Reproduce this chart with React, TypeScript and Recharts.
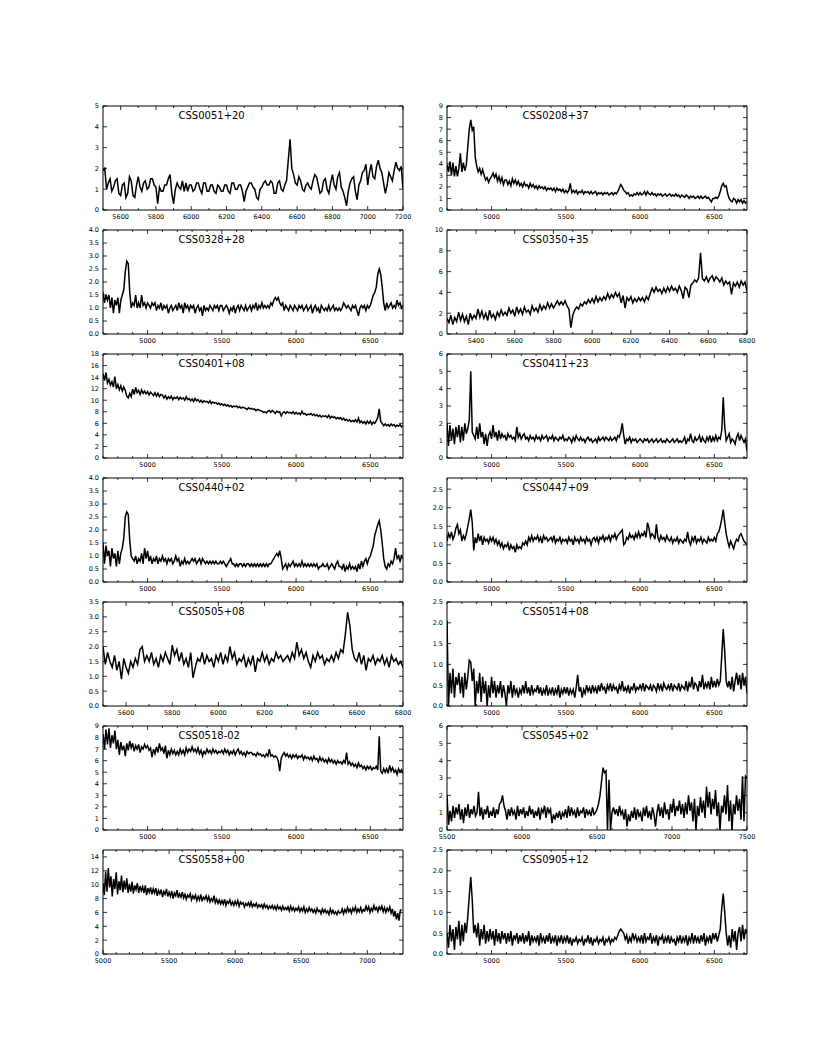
import React from 'react';
import { LineChart, Line, XAxis, YAxis, ReferenceLine } from 'recharts';

// plot box geometry (px)
const PLOT_W = 300;
const PLOT_H = 104;
const PAD_T = 6;
const PAD_R = 16;
const AXIS_W = 30;
const AXIS_H = 14;
const FONT = '"DejaVu Sans", sans-serif';

// fluxes, one value every 10 A (one row = 100 A)
const flux0051 = [
  1.9, 2.0, 1.0, 1.3, 1.5, 0.9, 1.1, 1.4, 1.5, 0.8,
  0.7, 1.2, 1.3, 0.6, 0.8, 1.6, 1.4, 0.7, 0.6, 1.2,
  1.6, 1.1, 0.9, 1.3, 1.4, 1.0, 1.1, 1.5, 1.5, 1.2,
  1.1, 0.3, 1.1, 0.9, 0.9, 1.2, 1.2, 1.5, 1.7, 0.8,
  0.3, 1.0, 1.3, 1.1, 1.0, 1.4, 0.9, 1.3, 0.9, 1.2,
  1.2, 0.9, 1.0, 1.3, 1.3, 1.0, 0.8, 1.3, 1.3, 0.9,
  0.9, 1.2, 1.2, 0.9, 0.8, 1.2, 1.1, 0.9, 0.9, 1.2,
  1.2, 0.9, 0.8, 1.3, 1.3, 1.0, 1.0, 1.2, 1.2, 0.9,
  0.4, 0.9, 1.1, 1.3, 1.3, 1.1, 1.0, 0.6, 0.5, 1.0,
  1.1, 1.3, 1.4, 1.2, 1.2, 1.4, 1.3, 0.8, 0.8, 1.3,
  1.4, 1.0, 0.9, 1.2, 1.4, 2.4, 3.4, 2.0, 1.7, 1.3,
  1.2, 1.6, 1.4, 1.0, 0.9, 1.2, 1.3, 1.1, 1.0, 1.4,
  1.7, 1.6, 1.2, 0.8, 0.9, 1.4, 1.5, 1.0, 0.8, 1.3,
  1.7, 1.2, 1.0, 1.6, 1.8, 1.1, 0.9, 0.6, 0.2, 0.9,
  1.3, 1.5, 1.6, 0.9, 0.5, 1.2, 1.4, 1.8, 1.9, 2.2,
  1.2, 1.8, 2.2, 1.6, 1.5, 2.1, 2.4, 2.0, 1.8, 1.3,
  0.8, 1.2, 1.8, 1.6, 1.4, 1.9, 2.3, 2.0, 1.9, 2.1,
  1.0,
];

const flux0208 = [
  3.9, 3.3, 4.2, 3.0, 4.1, 2.9, 3.8, 2.9, 3.6, 4.9,
  3.3, 4.1, 3.4, 3.9, 5.5, 7.0, 7.8, 6.9, 7.2, 4.6,
  3.8, 3.3, 3.6, 3.1, 3.5, 3.0, 2.6, 2.8, 2.4, 2.7,
  2.9, 3.2, 2.8, 3.1, 2.5, 2.9, 2.4, 2.8, 2.2, 2.6,
  2.6, 2.2, 2.5, 2.1, 2.7, 2.3, 2.6, 2.2, 2.5, 2.1,
  2.3, 2.0, 2.4, 2.1, 2.2, 1.9, 2.3, 2.0, 2.2, 1.9,
  2.1, 1.8, 2.1, 1.9, 2.0, 1.8, 2.0, 1.7, 1.9, 1.8,
  1.9, 1.7, 1.9, 1.6, 1.9, 1.7, 1.8, 1.6, 1.8, 1.5,
  1.7, 1.5, 1.7, 2.3, 1.5, 1.7, 1.5, 1.7, 1.4, 1.6,
  1.5, 1.7, 1.4, 1.6, 1.5, 1.6, 1.4, 1.6, 1.4, 1.5,
  1.6, 1.3, 1.5, 1.4, 1.5, 1.3, 1.5, 1.4, 1.5, 1.3,
  1.4, 1.5, 1.3, 1.5, 1.4, 1.6, 1.9, 2.2, 2.0, 1.7,
  1.6, 1.4, 1.5, 1.2, 1.3, 1.2, 1.4, 1.3, 1.5, 1.3,
  1.5, 1.3, 1.4, 1.6, 1.3, 1.6, 1.4, 1.3, 1.5, 1.3,
  1.4, 1.2, 1.4, 1.3, 1.4, 1.2, 1.3, 1.4, 1.2, 1.3,
  1.4, 1.2, 1.3, 1.2, 1.4, 1.2, 1.3, 1.1, 1.3, 1.2,
  1.1, 1.3, 1.2, 1.0, 1.2, 1.1, 1.2, 1.0, 1.1, 1.2,
  1.0, 1.2, 1.0, 1.1, 1.2, 1.0, 1.1, 0.9, 0.7, 1.0,
  1.0, 1.1, 1.0, 1.2, 1.6, 2.1, 2.3, 2.0, 2.1, 1.4,
  1.0, 0.8, 0.7, 1.0, 0.9, 0.6, 0.9, 0.7, 0.9, 0.6,
  0.8, 0.6, 0.7,
];

const flux0328 = [
  1.6, 1.2, 1.5, 1.3, 1.5, 1.0, 1.4, 0.8, 1.3, 1.1,
  1.4, 0.8, 1.3, 1.5, 1.7, 2.4, 2.8, 2.7, 1.6, 1.0,
  1.2, 1.1, 1.5, 1.0, 1.2, 1.0, 1.5, 1.1, 1.2, 1.0,
  1.2, 1.1, 1.0, 1.2, 1.1, 1.2, 0.9, 1.1, 1.0, 1.2,
  0.9, 1.1, 1.0, 1.1, 0.8, 1.0, 1.1, 0.9, 1.0, 1.1,
  0.9, 1.2, 1.0, 1.1, 0.8, 1.2, 1.0, 1.1, 0.9, 1.1,
  1.0, 1.1, 0.8, 1.0, 1.1, 0.9, 1.0, 0.7, 1.1, 0.9,
  1.0, 0.9, 1.1, 1.0, 0.9, 1.1, 1.0, 1.1, 0.9, 1.1,
  1.1, 0.9, 1.0, 1.1, 1.0, 0.8, 1.0, 0.9, 1.1, 0.8,
  1.0, 1.1, 0.9, 1.1, 1.0, 0.9, 1.1, 0.9, 1.0, 1.1,
  0.9, 1.1, 1.0, 1.2, 0.9, 1.1, 1.0, 1.2, 1.0, 1.1,
  1.0, 1.1, 1.0, 1.2, 1.1, 1.3, 1.4, 1.3, 1.4, 1.2,
  1.1, 1.2, 0.9, 1.1, 1.0, 0.9, 1.1, 1.0, 0.9, 1.1,
  1.0, 0.9, 1.1, 1.0, 1.1, 0.9, 1.0, 1.1, 0.9, 1.0,
  1.1, 0.8, 1.0, 1.1, 0.9, 1.0, 0.8, 1.1, 1.0, 0.9,
  1.0, 0.9, 1.1, 0.9, 1.0, 1.1, 0.9, 1.0, 0.9, 1.0,
  0.9, 1.0, 1.2, 1.1, 1.0, 1.1, 1.0, 0.9, 1.1, 1.0,
  1.1, 0.9, 0.7, 1.0, 1.1, 1.0, 1.1, 0.9, 1.1, 1.0,
  1.1, 1.3, 1.5, 1.6, 1.8, 2.3, 2.5, 2.3, 1.8, 1.2,
  0.9, 1.2, 1.0, 1.1, 1.2, 1.0, 1.1, 1.0, 1.3, 1.1,
  1.2, 1.0, 1.1,
];

const flux0350 = [
  1.5, 1.1, 1.8, 0.9, 1.6, 1.2, 2.1, 1.3, 1.9, 1.2,
  1.7, 0.9, 2.0, 1.4, 1.8, 1.5, 2.4, 1.6, 2.2, 1.5,
  2.0, 1.3, 2.3, 1.6, 1.9, 1.4, 2.1, 1.7, 2.3, 1.8,
  2.1, 1.8, 2.5, 2.0, 2.3, 1.7, 2.6, 2.0, 2.4, 1.9,
  2.6, 2.1, 2.3, 1.9, 2.7, 2.2, 2.5, 2.1, 2.8, 2.3,
  2.7, 2.4, 3.0, 2.5, 2.9, 2.5, 2.8, 3.2, 2.8, 3.1,
  2.8, 3.2, 2.7, 2.4, 0.6, 1.8, 2.3, 2.6, 2.4, 2.9,
  2.7, 3.1, 2.9, 3.3, 3.0, 3.4, 3.0, 3.6, 3.1, 3.5,
  3.2, 3.6, 3.3, 3.9, 3.4, 3.8, 3.5, 4.0, 3.6, 3.9,
  3.0, 3.7, 2.5, 3.5, 3.2, 3.6, 3.0, 3.4, 3.1, 3.5,
  3.2, 3.5, 3.1, 3.6, 3.3, 3.9, 4.4, 4.0, 4.5, 4.1,
  4.3, 3.9, 4.4, 4.0, 4.5, 4.1, 4.6, 4.2, 4.4, 4.0,
  4.6, 4.2, 3.4, 4.5, 4.3, 3.5, 4.7, 4.9, 5.2, 5.0,
  5.4, 7.8, 5.3, 5.1, 5.5, 5.0, 5.4, 5.6, 5.1, 5.5,
  5.3, 5.0, 5.4, 4.7, 5.1, 4.8, 5.0, 3.8, 4.9, 4.6,
  5.0, 4.5, 5.1, 4.7, 5.0, 4.1,
];

const flux0401 = [
  14.6, 13.4, 14.8, 13.0, 13.6, 12.6, 13.2, 12.3, 14.1, 12.0,
  12.7, 11.8, 12.5, 11.6, 12.3, 11.7, 10.7, 10.4, 11.2, 10.6,
  11.9, 11.0, 12.2, 11.3, 11.7, 11.0, 11.8, 11.2, 11.6, 11.1,
  11.5, 10.9, 11.4, 11.1, 10.8, 11.3, 10.7, 11.2, 10.6, 11.0,
  10.9, 10.4, 10.8, 10.2, 10.6, 10.3, 10.7, 10.1, 10.5, 10.3,
  10.6, 10.1, 10.5, 10.2, 10.4, 10.0, 10.6, 10.1, 10.3, 9.9,
  10.2, 9.8, 10.3, 9.9, 10.1, 9.7, 10.0, 9.6, 9.9, 9.7,
  9.8, 9.5, 9.9, 9.4, 9.7, 9.5, 9.6, 9.3, 9.5, 9.2,
  9.4, 9.1, 9.3, 9.0, 9.2, 8.9, 9.1, 8.8, 9.0, 8.9,
  9.0, 8.7, 8.9, 8.6, 8.8, 8.7, 8.6, 8.4, 8.7, 8.5,
  8.6, 8.4, 8.5, 8.2, 8.4, 8.3, 8.2, 8.1, 7.9, 8.0,
  7.8, 8.1, 8.2, 7.9, 8.2, 8.0, 7.7, 8.1, 7.9, 8.0,
  7.3, 7.8, 8.0, 7.7, 8.0, 7.8, 7.9, 7.7, 8.0, 7.6,
  7.9, 7.6, 7.8, 7.5, 8.1, 7.6, 7.7, 7.4, 7.6, 7.5,
  7.7, 7.4, 7.6, 7.3, 7.5, 7.2, 7.4, 7.1, 7.3, 7.2,
  7.3, 7.0, 7.4, 6.9, 7.2, 7.0, 7.1, 6.8, 7.0, 6.8,
  7.0, 6.6, 6.9, 6.5, 6.7, 6.4, 6.6, 6.3, 6.5, 6.3,
  6.6, 6.2, 6.9, 6.1, 6.4, 6.0, 6.3, 5.9, 6.4, 6.0,
  6.4, 5.8, 6.2, 6.0, 6.4, 7.0, 8.5, 6.3, 6.0, 5.6,
  5.9, 5.6, 5.8, 5.5, 5.9, 5.6, 5.8, 5.4, 5.7, 5.5,
  5.8, 5.4, 5.6,
];

const flux0411 = [
  2.0, 0.7, 1.9, 1.0, 1.7, 0.8, 1.8, 1.2, 1.9, 0.9,
  1.8, 1.0, 2.0, 1.4, 1.7, 2.2, 5.0, 1.5, 1.3, 1.1,
  1.8, 1.1, 2.0, 1.2, 1.5, 0.8, 1.4, 0.7, 1.3, 1.5,
  1.1, 1.9, 1.2, 1.5, 1.0, 1.6, 1.1, 1.4, 1.2, 1.3,
  1.0, 1.4, 1.2, 1.3, 1.1, 1.2, 1.0, 1.8, 1.2, 1.4,
  1.1, 1.3, 1.4, 1.1, 1.2, 1.0, 1.3, 1.1, 1.2, 1.0,
  1.3, 1.1, 1.2, 1.0, 1.3, 1.1, 1.2, 1.3, 1.0, 1.2,
  1.1, 1.3, 1.0, 1.2, 1.1, 1.0, 1.2, 1.1, 1.3, 1.0,
  1.1, 1.0, 1.2, 1.1, 0.9, 1.2, 1.0, 1.3, 1.1, 1.0,
  1.2, 1.0, 1.1, 0.9, 1.1, 1.2, 1.0, 1.1, 0.9, 1.0,
  1.1, 0.9, 1.2, 1.0, 1.1, 1.2, 1.0, 1.2, 1.1, 1.0,
  1.2, 1.0, 1.1, 1.2, 1.0, 1.3, 1.2, 1.5, 2.0, 1.3,
  0.8, 1.1, 1.0, 1.2, 0.9, 1.1, 1.0, 1.1, 0.9, 1.0,
  1.1, 1.0, 0.9, 1.1, 1.0, 1.1, 0.9, 1.0, 1.1, 0.9,
  1.0, 1.1, 0.9, 1.0, 1.1, 0.9, 1.0, 0.9, 1.1, 1.0,
  0.9, 1.0, 1.1, 0.9, 1.0, 1.1, 0.9, 1.0, 0.9, 1.0,
  1.2, 0.8, 1.1, 1.0, 1.4, 1.0, 0.9, 1.2, 1.0, 1.1,
  1.3, 0.9, 1.2, 1.0, 0.9, 1.2, 1.0, 1.3, 0.9, 1.2,
  1.0, 1.3, 1.0, 1.2, 1.1, 1.6, 3.5, 1.8, 1.0, 1.2,
  1.4, 0.9, 1.1, 1.0, 0.8, 1.2, 1.4, 1.0, 1.3, 1.1,
  0.9, 1.1, 0.4,
];

const flux0440 = [
  1.5, 0.7, 1.4, 1.0, 1.2, 0.6, 1.3, 0.9, 1.1, 0.6,
  1.2, 0.7, 1.1, 1.3, 1.7, 2.5, 2.7, 2.6, 1.6, 1.0,
  0.9, 0.8, 1.0, 0.7, 0.9, 0.8, 1.1, 0.7, 1.3, 0.9,
  1.2, 0.8, 1.0, 0.7, 0.9, 0.8, 1.0, 0.7, 0.9, 0.8,
  1.0, 0.8, 0.9, 0.7, 0.9, 0.8, 0.9, 0.7, 0.8, 1.0,
  0.8, 0.9, 0.6, 0.8, 0.7, 0.9, 0.7, 0.8, 0.7, 0.8,
  0.9, 0.8, 0.9, 0.7, 0.8, 0.9, 0.7, 0.9, 0.8, 0.7,
  0.8, 0.7, 0.8, 0.7, 0.8, 0.7, 0.8, 0.7, 0.7, 0.8,
  0.7, 0.8, 0.7, 0.6, 0.7, 0.8, 0.9, 0.7, 0.7, 0.6,
  0.7, 0.6, 0.7, 0.7, 0.6, 0.7, 0.6, 0.7, 0.7, 0.6,
  0.7, 0.6, 0.7, 0.6, 0.7, 0.6, 0.7, 0.6, 0.7, 0.6,
  0.7, 0.6, 0.7, 0.7, 0.8, 0.9, 1.0, 1.1, 1.0, 1.2,
  0.9, 0.5, 0.6, 0.7, 0.5, 0.7, 0.6, 0.7, 0.8, 0.6,
  0.7, 0.6, 0.7, 0.6, 0.8, 0.6, 0.7, 0.6, 0.7, 0.6,
  0.7, 0.6, 0.7, 0.6, 0.7, 0.5, 0.6, 0.6, 0.7, 0.6,
  0.6, 0.7, 0.5, 0.6, 0.7, 0.6, 0.5, 0.7, 0.8, 0.6,
  0.6, 0.5, 0.7, 0.4, 0.6, 0.5, 0.7, 0.5, 0.6, 0.5,
  0.6, 0.4, 0.7, 0.5, 0.8, 0.6, 0.8, 0.9, 0.7, 0.9,
  1.0, 1.2, 1.4, 1.8, 2.0, 2.2, 2.35, 2.0, 1.5, 0.9,
  0.6, 0.5, 0.7, 0.6, 0.8, 0.7, 0.9, 1.3, 0.9, 1.0,
  0.8, 1.0, 0.9,
];

const flux0447 = [
  1.1, 1.3, 1.2, 1.35, 1.15, 1.25, 1.45, 1.55, 1.3, 1.4,
  1.1, 1.25, 1.15, 1.3, 1.5, 1.7, 1.95, 1.6, 0.85, 1.2,
  1.05, 1.3, 1.1, 1.25, 1.0, 1.2, 1.1, 1.15, 1.05, 1.2,
  1.1, 1.2, 1.05, 1.15, 1.0, 1.1, 0.95, 1.05, 0.9, 1.0,
  0.95, 1.05, 0.85, 1.0, 0.9, 0.95, 0.8, 1.0, 0.9, 0.95,
  0.9, 1.05, 1.0, 1.1, 1.0, 1.2, 1.1, 1.25, 1.1, 1.2,
  1.15, 1.25, 1.1, 1.2, 1.05, 1.25, 1.15, 1.2, 1.1, 1.15,
  1.2, 1.1, 1.25, 1.05, 1.15, 1.1, 1.2, 1.05, 1.15, 1.1,
  1.15, 1.05, 1.2, 1.1, 1.15, 1.0, 1.2, 1.1, 1.15, 1.05,
  1.2, 1.1, 1.15, 1.05, 1.2, 1.1, 1.15, 1.0, 1.15, 1.2,
  1.1, 1.2, 1.05, 1.2, 1.15, 1.25, 1.1, 1.2, 1.15, 1.25,
  1.1, 1.25, 1.2, 1.3, 1.15, 1.25, 1.3, 1.35, 1.4, 1.0,
  1.05, 1.2, 1.15, 1.3, 1.2, 1.25, 1.15, 1.3, 1.2, 1.35,
  1.2, 1.3, 1.25, 1.35, 1.2, 1.6, 1.45, 1.2, 1.3, 1.25,
  1.15, 1.55, 1.2, 1.1, 1.25, 1.15, 1.2, 1.1, 1.25, 1.15,
  1.1, 1.2, 1.05, 1.15, 1.1, 1.2, 1.05, 1.15, 1.1, 1.05,
  1.15, 1.1, 1.35, 1.1, 1.0, 1.2, 1.1, 1.25, 1.05, 1.15,
  1.1, 1.2, 1.05, 1.15, 1.1, 1.05, 1.2, 1.1, 1.15, 1.1,
  1.2, 1.1, 1.3, 1.35, 1.5, 1.7, 1.95, 1.6, 1.3, 1.1,
  0.95, 1.1, 1.0, 0.9, 1.05, 1.15, 1.1, 1.25, 1.3, 1.2,
  1.1, 1.05, 1.0,
];

const flux0505 = [
  2.0, 1.4, 1.8, 1.5, 1.3, 1.7, 1.2, 1.5, 0.9, 1.6,
  1.3, 1.1, 1.5, 1.3, 1.6, 1.4, 1.9, 2.0, 1.5, 1.7,
  1.5, 1.8, 1.4, 1.6, 1.3, 1.7, 1.5, 1.8, 1.6, 1.4,
  2.05, 1.7, 1.9, 1.5, 1.8, 1.4, 1.6, 1.3, 1.8, 0.95,
  1.3, 1.6, 1.5, 1.8, 1.4, 1.7, 1.5, 1.6, 1.3, 1.7,
  1.5, 1.8, 1.4, 1.7, 1.5, 2.0, 1.6, 1.8, 1.4, 1.6,
  1.5, 1.7, 1.3, 1.6, 1.4, 1.7, 1.15, 1.6, 1.5, 1.8,
  1.5, 1.7, 1.4, 1.6, 1.5, 1.8, 1.6, 1.7, 1.5, 1.6,
  1.7, 1.5, 1.8, 1.6, 2.15, 1.7, 1.9, 1.6, 1.8, 1.5,
  1.3, 1.7, 1.5, 1.8, 1.6, 1.7, 1.4, 1.6, 1.5, 1.7,
  1.5, 1.8, 1.6, 1.9, 1.8, 2.4, 3.15, 2.7, 1.9, 1.6,
  1.5, 1.8, 1.4, 1.7, 1.2, 1.6, 1.5, 1.7, 1.4, 1.6,
  1.5, 1.7, 1.4, 1.6, 1.3, 1.7, 1.5, 1.6, 1.4, 1.5,
  1.3,
];

const flux0514 = [
  2.05, 0.0, 0.8, 0.3, 0.9, 0.2, 0.7, 0.5, 0.8, 0.3,
  0.7, 0.2, 0.8, 0.4, 0.7, 1.1, 1.05, 0.6, 0.9, 0.0,
  0.6, 0.3, 0.8, 0.1, 0.7, 0.3, 0.6, 0.0, 0.5, 0.2,
  0.7, 0.3, 0.6, 0.2, 0.5, 0.3, 0.6, 0.2, 0.5, 0.3,
  0.0, 0.5, 0.3, 0.6, 0.2, 0.5, 0.3, 0.4, 0.2, 0.4,
  0.3, 0.5, 0.3, 0.6, 0.3, 0.45, 0.25, 0.5, 0.3, 0.4,
  0.35, 0.5, 0.3, 0.45, 0.25, 0.4, 0.3, 0.5, 0.25, 0.4,
  0.3, 0.45, 0.25, 0.4, 0.3, 0.5, 0.2, 0.4, 0.3, 0.45,
  0.3, 0.45, 0.25, 0.4, 0.3, 0.4, 0.2, 0.45, 0.75, 0.35,
  0.45, 0.2, 0.4, 0.3, 0.5, 0.35, 0.45, 0.3, 0.5, 0.35,
  0.45, 0.3, 0.5, 0.35, 0.55, 0.4, 0.45, 0.3, 0.5, 0.4,
  0.55, 0.35, 0.5, 0.4, 0.45, 0.3, 0.5, 0.4, 0.6, 0.35,
  0.45, 0.35, 0.5, 0.3, 0.45, 0.4, 0.55, 0.35, 0.45, 0.4,
  0.5, 0.4, 0.55, 0.35, 0.5, 0.45, 0.4, 0.5, 0.35, 0.5,
  0.45, 0.35, 0.55, 0.4, 0.5, 0.35, 0.55, 0.45, 0.4, 0.5,
  0.4, 0.55, 0.35, 0.5, 0.45, 0.4, 0.55, 0.35, 0.5, 0.45,
  0.4, 0.6, 0.35, 0.55, 0.45, 0.7, 0.4, 0.55, 0.5, 0.35,
  0.6, 0.45, 0.75, 0.4, 0.55, 0.45, 0.6, 0.4, 0.7, 0.45,
  0.6, 0.45, 0.65, 0.5, 0.6, 1.2, 1.85, 1.3, 0.6, 0.45,
  0.6, 0.4, 0.7, 0.35, 0.6, 0.8, 0.5, 0.75, 0.4, 0.8,
  0.5, 0.7, 0.3,
];

const flux0518 = [
  8.3, 7.0, 8.7, 7.4, 8.8, 7.1, 8.2, 7.5, 8.6, 7.0,
  7.8, 6.5, 7.6, 6.9, 7.3, 6.4, 7.5, 6.9, 7.7, 7.1,
  7.5, 6.8, 7.3, 7.0, 7.4, 6.7, 7.2, 7.0, 7.4, 7.1,
  7.3, 6.9, 7.1, 6.3, 7.0, 6.6, 7.2, 6.7, 7.5, 6.9,
  7.1, 6.6, 7.3, 6.2, 6.9, 6.5, 7.0, 6.6, 6.9, 6.5,
  6.8, 6.5, 7.0, 6.6, 6.9, 6.5, 7.1, 6.7, 7.0, 6.8,
  7.2, 6.8, 7.0, 6.7, 7.1, 6.6, 6.9, 6.4, 6.8, 6.6,
  7.0, 6.7, 6.9, 6.6, 7.0, 6.7, 6.9, 6.6, 6.8, 6.7,
  6.9, 6.6, 7.0, 6.7, 6.9, 6.5, 6.8, 6.6, 6.9, 6.5,
  6.8, 7.0, 6.6, 6.8, 6.5, 6.7, 6.4, 6.8, 6.6, 6.7,
  6.7, 6.5, 6.6, 6.4, 6.7, 6.5, 6.6, 6.4, 6.5, 6.3,
  6.6, 6.4, 7.0, 6.4, 6.5, 6.3, 6.4, 6.3, 6.0, 5.1,
  6.2, 6.5, 6.7, 6.4, 6.6, 6.3, 6.5, 6.2, 6.5, 6.3,
  6.5, 6.2, 6.4, 6.3, 6.5, 6.1, 6.4, 6.2, 6.3, 6.1,
  6.3, 6.0, 6.4, 6.1, 6.2, 5.9, 6.3, 6.0, 6.2, 5.9,
  6.1, 5.8, 6.2, 5.9, 6.1, 5.8, 6.0, 5.7, 6.0, 5.8,
  5.9, 5.7, 6.0, 5.8, 6.7, 5.7, 5.9, 5.6, 5.8, 5.5,
  5.7, 5.4, 5.8, 5.5, 5.6, 5.3, 5.5, 5.2, 5.5, 5.3,
  5.5, 5.2, 5.4, 5.3, 5.5, 5.2, 8.1, 5.1, 4.9, 5.3,
  5.0, 5.3, 4.9, 5.6, 5.1, 5.4, 5.0, 5.2, 4.8, 5.3,
  5.0, 5.2, 4.9,
];

const flux0545 = [
  2.0, 0.3, 1.1, 0.5, 1.4, 0.7, 1.3, 0.9, 1.5, 0.6,
  1.2, 0.4, 1.3, 0.8, 1.5, 0.7, 1.2, 0.9, 1.4, 0.8,
  1.0, 2.2, 0.8, 1.3, 0.6, 1.2, 0.9, 1.4, 0.7, 1.1,
  0.8, 1.3, 0.7, 1.2, 0.9, 1.5, 1.6, 2.0, 1.4, 1.1,
  0.6, 1.2, 0.8, 1.3, 0.9, 1.1, 0.6, 1.4, 0.8, 1.2,
  0.9, 1.3, 0.7, 1.1, 0.8, 1.4, 0.9, 1.2, 0.7, 1.1,
  0.8, 1.3, 0.6, 1.2, 1.0, 1.4, 0.7, 1.3, 1.0, 1.2,
  0.4, 0.9, 0.6, 1.0, 0.7, 1.1, 0.6, 1.0, 0.8, 1.2,
  0.7, 1.4, 0.8, 1.3, 0.9, 1.1, 0.7, 1.3, 0.8, 1.1,
  1.0, 1.3, 0.7, 1.2, 0.9, 1.1, 0.8, 1.3, 0.9, 1.0,
  1.2, 1.5, 2.0, 2.8, 3.6, 3.3, 3.4, 0.0, 2.9, 0.0,
  1.0, 1.3, 0.9, 1.2, 0.8, 1.4, 0.9, 1.1, 0.6, 1.2,
  0.2, 0.9, 0.5, 1.1, 0.7, 1.3, 0.6, 1.2, 0.8, 1.0,
  0.5, 1.3, 0.8, 1.4, 0.7, 1.1, 0.6, 1.3, 0.9, 0.2,
  1.0, 1.5, 0.8, 1.3, 0.7, 1.6, 0.9, 1.2, 0.6, 1.5,
  1.0, 1.8, 0.8, 1.4, 1.1, 1.7, 0.9, 1.5, 0.7, 1.6,
  0.9, 2.0, 1.1, 1.6, 0.5, 1.8, 0.0, 1.4, 0.8, 1.9,
  1.0, 1.7, 0.7, 2.5, 1.3, 2.2, 0.9, 1.8, 1.2, 2.3,
  0.8, 1.6, 0.0, 1.4, 1.0, 2.0, 0.9, 2.6, 0.5, 1.7,
  0.0, 1.5, 0.9, 2.0, 1.1, 1.8, 0.6, 3.1, 0.5, 3.1,
  3.0,
];

const flux0558 = [
  10.2, 8.5, 11.9, 9.0, 12.4, 9.6, 11.2, 8.3, 10.8, 9.4,
  11.8, 8.6, 10.5, 9.2, 11.3, 8.9, 10.6, 9.3, 10.9, 8.8,
  10.1, 9.0, 10.4, 8.7, 9.9, 9.3, 10.2, 8.8, 9.8, 9.1,
  9.7, 8.8, 9.9, 8.5, 9.5, 8.9, 9.6, 8.6, 9.4, 8.8,
  9.5, 8.4, 9.2, 8.7, 9.3, 8.2, 9.0, 8.6, 9.4, 8.3,
  8.9, 8.3, 9.1, 8.0, 8.8, 8.4, 9.2, 8.1, 8.7, 8.2,
  8.9, 8.1, 8.6, 7.9, 8.5, 8.2, 8.7, 7.8, 8.4, 8.0,
  8.5, 7.7, 8.3, 7.8, 8.6, 7.6, 8.2, 7.9, 8.4, 7.7,
  8.3, 7.5, 8.0, 7.6, 8.4, 7.4, 7.9, 7.3, 7.8, 7.2,
  7.7, 7.2, 7.9, 7.0, 7.6, 7.3, 7.8, 7.1, 7.5, 7.0,
  7.6, 7.1, 7.7, 6.9, 7.5, 7.2, 7.4, 6.8, 7.3, 7.0,
  7.4, 6.9, 7.5, 6.8, 7.2, 6.9, 7.3, 6.7, 7.1, 6.8,
  7.1, 6.6, 7.2, 6.7, 7.0, 6.5, 6.9, 6.6, 7.0, 6.5,
  6.9, 6.4, 7.0, 6.5, 6.8, 6.3, 6.9, 6.4, 6.7, 6.4,
  6.8, 6.2, 6.9, 6.3, 6.7, 6.2, 6.6, 6.3, 6.8, 6.1,
  6.6, 6.2, 6.8, 6.0, 6.5, 6.1, 6.7, 6.2, 6.5, 6.0,
  6.4, 5.9, 6.6, 6.1, 6.3, 5.8, 6.5, 6.0, 6.4, 5.9,
  6.2, 5.7, 6.5, 5.9, 6.3, 5.8, 6.1, 5.7, 6.2, 5.9,
  6.0, 6.5, 5.8, 6.4, 6.0, 6.7, 6.1, 6.5, 5.9, 6.6,
  6.2, 6.8, 6.0, 6.5, 6.1, 6.7, 6.0, 6.4, 6.2, 6.9,
  6.3, 6.8, 6.0, 6.6, 6.2, 7.0, 6.4, 6.7, 6.1, 6.8,
  6.4, 6.9, 6.1, 6.7, 6.0, 6.6, 6.2, 6.8, 5.9, 6.5,
  5.4, 6.2, 5.0, 5.9, 4.8, 6.3, 6.4,
];

const flux0905 = [
  0.5, 0.15, 0.7, 0.3, 0.6, 0.1, 0.65, 0.35, 0.8, 0.2,
  0.7, 0.3, 0.75, 0.5, 0.9, 1.4, 1.85, 1.3, 0.5, 0.7,
  0.4, 0.75, 0.2, 0.6, 0.35, 0.7, 0.25, 0.55, 0.3, 0.6,
  0.35, 0.55, 0.2, 0.6, 0.3, 0.5, 0.25, 0.55, 0.35, 0.5,
  0.25, 0.5, 0.3, 0.55, 0.2, 0.45, 0.35, 0.5, 0.25, 0.45,
  0.3, 0.5, 0.25, 0.45, 0.3, 0.55, 0.2, 0.45, 0.3, 0.4,
  0.3, 0.45, 0.2, 0.5, 0.3, 0.4, 0.25, 0.45, 0.3, 0.5,
  0.25, 0.4, 0.3, 0.45, 0.2, 0.4, 0.3, 0.45, 0.25, 0.4,
  0.3, 0.45, 0.25, 0.4, 0.2, 0.35, 0.3, 0.4, 0.25, 0.35,
  0.3, 0.4, 0.2, 0.35, 0.3, 0.45, 0.25, 0.4, 0.2, 0.35,
  0.3, 0.4, 0.25, 0.35, 0.3, 0.4, 0.2, 0.35, 0.3, 0.4,
  0.25, 0.35, 0.3, 0.4, 0.35, 0.45, 0.55, 0.6, 0.55, 0.5,
  0.35, 0.45, 0.25, 0.4, 0.3, 0.5, 0.35, 0.45, 0.3, 0.4,
  0.3, 0.45, 0.25, 0.5, 0.3, 0.4, 0.35, 0.5, 0.25, 0.4,
  0.3, 0.45, 0.2, 0.4, 0.35, 0.45, 0.25, 0.4, 0.3, 0.45,
  0.25, 0.4, 0.3, 0.35, 0.2, 0.4, 0.3, 0.45, 0.25, 0.4,
  0.3, 0.45, 0.2, 0.4, 0.3, 0.5, 0.25, 0.45, 0.3, 0.4,
  0.25, 0.45, 0.3, 0.5, 0.2, 0.4, 0.3, 0.45, 0.25, 0.5,
  0.35, 0.5, 0.3, 0.45, 0.6, 1.1, 1.45, 1.0, 0.5, 0.2,
  0.45, 0.15, 0.6, 0.3, 0.55, 0.1, 0.5, 0.65, 0.3, 0.7,
  0.35, 0.6, 0.5,
];

// tick labels
const xLabels500 = [5000, 5500, 6000, 6500];
const xLabels0051 = [5600, 5800, 6000, 6200, 6400, 6600, 6800, 7000, 7200];
const xLabels0350 = [5400, 5600, 5800, 6000, 6200, 6400, 6600, 6800];
const xLabels0505 = [5600, 5800, 6000, 6200, 6400, 6600, 6800];
const xLabels0545 = [5500, 6000, 6500, 7000, 7500];
const xLabels0558 = [5000, 5500, 6000, 6500, 7000];

const y0to5 = [0, 1, 2, 3, 4, 5];
const y0to9 = [0, 1, 2, 3, 4, 5, 6, 7, 8, 9];
const y0to6 = [0, 1, 2, 3, 4, 5, 6];
const y0to4half = [0, 0.5, 1, 1.5, 2, 2.5, 3, 3.5, 4];
const y0to35half = [0, 0.5, 1, 1.5, 2, 2.5, 3, 3.5];
const y0to25half = [0, 0.5, 1, 1.5, 2, 2.5];
const y0to10by2 = [0, 2, 4, 6, 8, 10];
const y0to18by2 = [0, 2, 4, 6, 8, 10, 12, 14, 16, 18];
const y0to14by2 = [0, 2, 4, 6, 8, 10, 12, 14];

const panels = [
  { name: 'CSS0051+20', flux: flux0051, w0: 5500, xLo: 5500, xHi: 7200, xLabels: xLabels0051, yMax: 5, yTicks: y0to5, dec: 0, col: 0, row: 0 },
  { name: 'CSS0208+37', flux: flux0208, w0: 4700, xLo: 4700, xHi: 6720, xLabels: xLabels500, yMax: 9, yTicks: y0to9, dec: 0, col: 1, row: 0 },
  { name: 'CSS0328+28', flux: flux0328, w0: 4700, xLo: 4700, xHi: 6720, xLabels: xLabels500, yMax: 4, yTicks: y0to4half, dec: 1, col: 0, row: 1 },
  { name: 'CSS0350+35', flux: flux0350, w0: 5250, xLo: 5250, xHi: 6800, xLabels: xLabels0350, yMax: 10, yTicks: y0to10by2, dec: 0, col: 1, row: 1 },
  { name: 'CSS0401+08', flux: flux0401, w0: 4700, xLo: 4700, xHi: 6720, xLabels: xLabels500, yMax: 18, yTicks: y0to18by2, dec: 0, col: 0, row: 2 },
  { name: 'CSS0411+23', flux: flux0411, w0: 4700, xLo: 4700, xHi: 6720, xLabels: xLabels500, yMax: 6, yTicks: y0to6, dec: 0, col: 1, row: 2 },
  { name: 'CSS0440+02', flux: flux0440, w0: 4700, xLo: 4700, xHi: 6720, xLabels: xLabels500, yMax: 4, yTicks: y0to4half, dec: 1, col: 0, row: 3 },
  { name: 'CSS0447+09', flux: flux0447, w0: 4700, xLo: 4700, xHi: 6720, xLabels: xLabels500, yMax: 2.8, yTicks: y0to25half, dec: 1, col: 1, row: 3 },
  { name: 'CSS0505+08', flux: flux0505, w0: 5500, xLo: 5500, xHi: 6800, xLabels: xLabels0505, yMax: 3.5, yTicks: y0to35half, dec: 1, col: 0, row: 4 },
  { name: 'CSS0514+08', flux: flux0514, w0: 4700, xLo: 4700, xHi: 6720, xLabels: xLabels500, yMax: 2.5, yTicks: y0to25half, dec: 1, col: 1, row: 4 },
  { name: 'CSS0518-02', flux: flux0518, w0: 4700, xLo: 4700, xHi: 6720, xLabels: xLabels500, yMax: 9, yTicks: y0to9, dec: 0, col: 0, row: 5 },
  { name: 'CSS0545+02', flux: flux0545, w0: 5500, xLo: 5500, xHi: 7500, xLabels: xLabels0545, yMax: 6, yTicks: y0to6, dec: 0, col: 1, row: 5 },
  { name: 'CSS0558+00', flux: flux0558, w0: 5000, xLo: 5000, xHi: 7270, xLabels: xLabels0558, yMax: 15, yTicks: y0to14by2, dec: 0, col: 0, row: 6 },
  { name: 'CSS0905+12', flux: flux0905, w0: 4700, xLo: 4700, xHi: 6720, xLabels: xLabels500, yMax: 2.5, yTicks: y0to25half, dec: 1, col: 1, row: 6 },
];

const STEP = 10;

const minorTicks = (lo: number, hi: number, step: number) => {
  const out: number[] = [];
  for (let v = Math.ceil(lo / step) * step; v <= hi; v += step) out.push(v);
  return out;
};

const bottom = PAD_T + PLOT_H;
const left = AXIS_W;
const right = AXIS_W + PLOT_W;

const makeXTick = (labels: number[]) => (props: any) => {
  const { x, payload } = props;
  const major = labels.includes(payload.value);
  const len = major ? 4 : 2;
  return (
    <g>
      <line x1={x} x2={x} y1={bottom} y2={bottom - len} stroke="#000" strokeWidth={0.8} />
      <line x1={x} x2={x} y1={PAD_T} y2={PAD_T + len} stroke="#000" strokeWidth={0.8} />
      {major && (
        <text x={x} y={bottom + 9} textAnchor="middle" fontSize={6.5} fontFamily={FONT} fill="#000">
          {payload.value}
        </text>
      )}
    </g>
  );
};

const makeYTick = (dec: number) => (props: any) => {
  const { y, payload } = props;
  return (
    <g>
      <line x1={left} x2={left + 4} y1={y} y2={y} stroke="#000" strokeWidth={0.8} />
      <line x1={right - 4} x2={right} y1={y} y2={y} stroke="#000" strokeWidth={0.8} />
      <text x={left - 4} y={y + 2.4} textAnchor="end" fontSize={6.5} fontFamily={FONT} fill="#000">
        {payload.value.toFixed(dec)}
      </text>
    </g>
  );
};

const Panel = ({ p }: { p: (typeof panels)[number] }) => {
  const data = p.flux.map((f, i) => ({ w: p.w0 + i * STEP, f }));
  const plotLeft = p.col ? 447 : 103;
  const plotTop = 106 + 124 * p.row;
  const xTicks = Array.from(new Set([...minorTicks(p.xLo, p.xHi, 100), ...p.xLabels])).sort((a, b) => a - b);
  return (
    <>
      <div style={{ position: 'absolute', left: plotLeft - AXIS_W, top: plotTop - PAD_T }}>
        <LineChart
          width={AXIS_W + PLOT_W + PAD_R}
          height={PAD_T + PLOT_H + AXIS_H}
          data={data}
          margin={{ top: PAD_T, right: PAD_R, bottom: 0, left: 0 }}
        >
          <XAxis
            type="number"
            dataKey="w"
            domain={[p.xLo, p.xHi]}
            allowDataOverflow
            ticks={xTicks}
            interval={0}
            height={AXIS_H}
            tick={makeXTick(p.xLabels)}
            tickLine={false}
            axisLine={{ stroke: '#000', strokeWidth: 1 }}
          />
          <YAxis
            type="number"
            domain={[0, p.yMax]}
            allowDataOverflow
            ticks={p.yTicks}
            interval={0}
            width={AXIS_W}
            tick={makeYTick(p.dec)}
            tickLine={false}
            axisLine={{ stroke: '#000', strokeWidth: 1 }}
          />
          <ReferenceLine y={p.yMax} stroke="#000" strokeWidth={1} />
          <ReferenceLine x={p.xHi} stroke="#000" strokeWidth={1} />
          <Line
            type="linear"
            dataKey="f"
            stroke="#000"
            strokeWidth={1.5}
            dot={false}
            isAnimationActive={false}
          />
        </LineChart>
      </div>
      <div
        style={{
          position: 'absolute',
          left: plotLeft + 75.5,
          top: plotTop + 4.5,
          fontFamily: FONT,
          fontSize: 10,
          lineHeight: '10px',
          whiteSpace: 'nowrap',
          color: '#000',
        }}
      >
        {p.name}
      </div>
    </>
  );
};

export default function App() {
  return (
    <div style={{ position: 'absolute', left: 0, top: 0, width: 830, height: 1061, background: '#fff' }}>
      {panels.map((p) => (
        <Panel key={p.name} p={p} />
      ))}
    </div>
  );
}
